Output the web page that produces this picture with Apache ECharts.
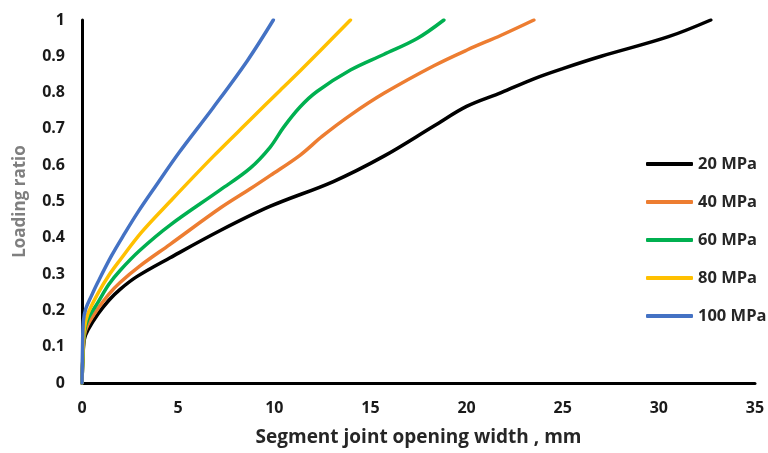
<!DOCTYPE html>
<html>
<head>
<meta charset="utf-8">
<script src="https://cdn.jsdelivr.net/npm/echarts@6/dist/echarts.min.js"></script>
<style>
html,body{margin:0;padding:0;background:#fff;}
#chart{width:768px;height:453px;}
</style>
</head>
<body>
<div id="chart"></div>
<script>
var seriesNames = ['20 MPa', '40 MPa', '60 MPa', '80 MPa', '100 MPa'];
var seriesColors = ['#000000', '#ED7D31', '#00B050', '#FFC000', '#4472C4'];

var mpa20 = [[0,0],[0.04,0.06],[0.12,0.12],[0.31,0.146],[0.83,0.19],[1.4,0.228],[1.98,0.258],[2.85,0.293],[4.58,0.345],[7.19,0.42],[9.8,0.487],[13.07,0.555],[15.7,0.625],[18.3,0.708],[20,0.762],[21.8,0.80],[23.5,0.838],[25,0.866],[27,0.9],[30.5,0.954],[32.7,1.0]];
var mpa40 = [[0,0],[0.04,0.06],[0.12,0.13],[0.3,0.16],[0.83,0.205],[1.4,0.245],[1.98,0.277],[3,0.322],[4.58,0.382],[7.19,0.482],[8.75,0.535],[9.8,0.572],[11.35,0.628],[12.5,0.68],[13.96,0.738],[15.7,0.798],[18.3,0.874],[20.05,0.918],[21.8,0.958],[23.5,1.0]];
var mpa60 = [[0,0],[0.04,0.06],[0.12,0.14],[0.3,0.175],[0.83,0.222],[1.4,0.272],[1.98,0.31],[3,0.365],[4.58,0.435],[7.19,0.532],[8.75,0.592],[9.79,0.65],[10.49,0.705],[11.35,0.761],[12.22,0.803],[13.96,0.862],[15.69,0.905],[17.43,0.949],[18.82,1.0]];
var mpa80 = [[0,0],[0.04,0.07],[0.12,0.15],[0.3,0.19],[0.83,0.247],[1.4,0.297],[1.98,0.339],[3.09,0.415],[4.58,0.5],[6.84,0.625],[8.75,0.725],[10.3,0.806],[11.35,0.86],[13.96,1.0]];
var mpa100 = [[0,0],[0.03,0.1],[0.07,0.17],[0.2,0.205],[0.49,0.24],[0.83,0.278],[1.53,0.35],[2.22,0.412],[2.9,0.47],[3.8,0.54],[5.05,0.635],[6.8,0.757],[8.6,0.888],[9.95,1.0]];

var seriesData = [mpa20, mpa40, mpa60, mpa80, mpa100];

var xTicks = { min: 0, max: 35, interval: 5 };
var yTicks = { min: 0, max: 1, interval: 0.1 };

var FONT = 'Open Sans';

var chart = echarts.init(document.getElementById('chart'), null, { renderer: 'canvas' });

var series = seriesNames.map(function (name, i) {
  return {
    name: name,
    type: 'line',
    data: seriesData[i],
    smooth: 0.35,
    showSymbol: false,
    symbol: 'none',
    lineStyle: { width: 3.5, color: seriesColors[i], cap: 'round', join: 'round' },
    itemStyle: { color: seriesColors[i] },
    z: 2 + i
  };
});

chart.setOption({
  animation: false,
  backgroundColor: '#ffffff',
  grid: { left: 82, right: 13, top: 20, bottom: 70, containLabel: false },
  legend: {
    orient: 'vertical',
    left: 641,
    top: 150,
    data: seriesNames,
    icon: 'roundRect',
    itemWidth: 47,
    itemHeight: 4,
    itemGap: 20,
    textStyle: { fontFamily: FONT, fontWeight: 'bold', fontSize: 16.5, color: '#262626', lineHeight: 18 }
  },
  xAxis: {
    type: 'value',
    min: xTicks.min, max: xTicks.max, interval: xTicks.interval,
    name: 'Segment joint opening width , mm',
    nameLocation: 'middle',
    nameGap: 45,
    nameTextStyle: { fontFamily: FONT, fontWeight: 'bold', fontSize: 19, color: '#262626' },
    axisLine: { show: true, onZero: false, lineStyle: { color: '#000000', width: 3 } },
    axisTick: { show: false },
    splitLine: { show: false },
    axisLabel: { margin: 17, fontFamily: FONT, fontWeight: 'bold', fontSize: 16, color: '#1a1a1a' }
  },
  yAxis: {
    type: 'value',
    min: yTicks.min, max: yTicks.max, interval: yTicks.interval,
    name: 'Loading ratio',
    nameLocation: 'middle',
    nameGap: 53,
    nameTextStyle: { fontFamily: FONT, fontWeight: 'bold', fontSize: 17, color: '#7f7f7f' },
    axisLine: { show: true, onZero: false, lineStyle: { color: '#000000', width: 3 } },
    axisTick: { show: false },
    splitLine: { show: false },
    axisLabel: {
      margin: 17, fontFamily: FONT, fontWeight: 'bold', fontSize: 16, color: '#1a1a1a',
      formatter: function (v) { return String(+v.toFixed(1)); }
    }
  },
  series: series
});
</script>
</body>
</html>
